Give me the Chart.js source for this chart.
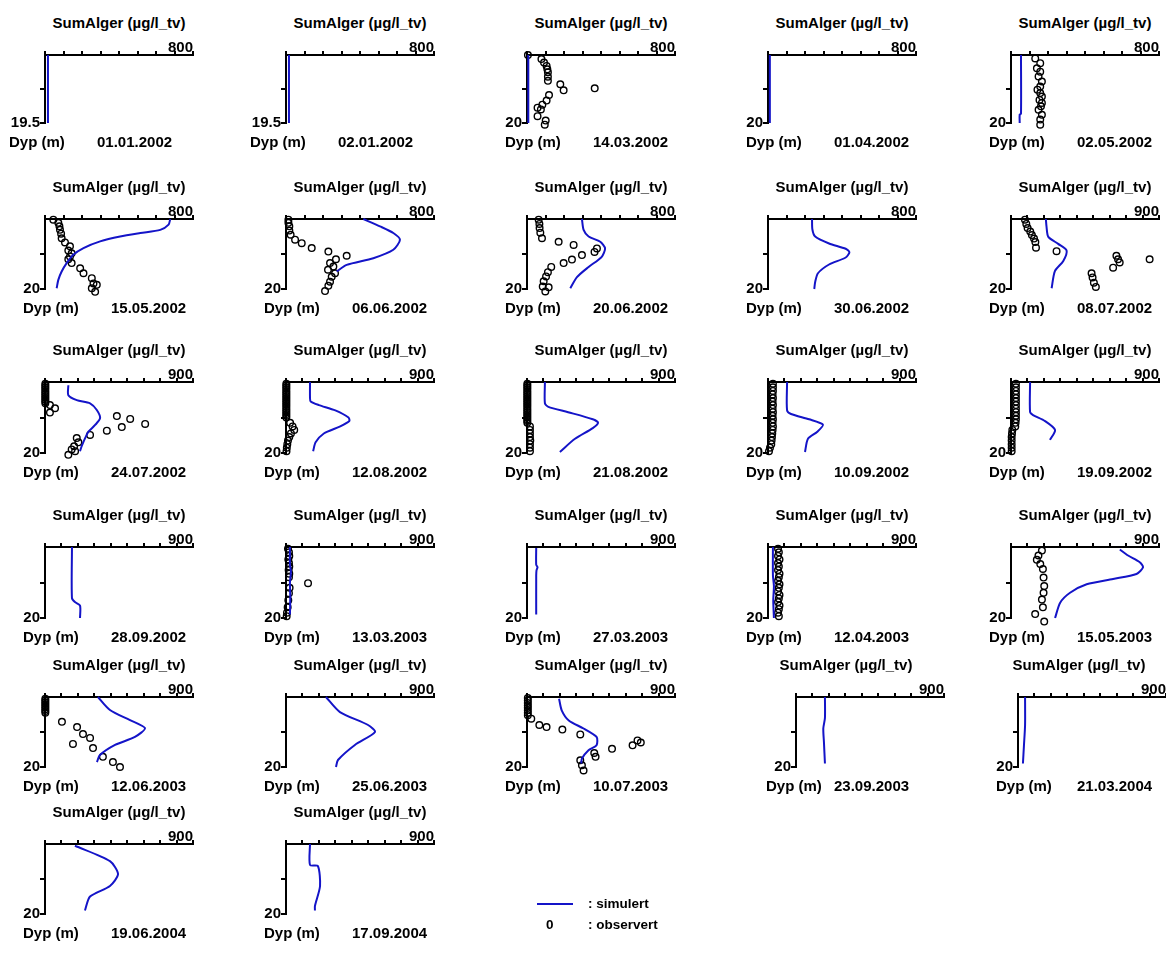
<!DOCTYPE html>
<html><head><meta charset="utf-8">
<script src="https://cdn.jsdelivr.net/npm/chart.js@4.4.1/dist/chart.umd.min.js"></script>
<style>
html,body{margin:0;padding:0;background:#fff;}
body{width:1166px;height:960px;position:relative;overflow:hidden;font-family:"Liberation Sans",Arial,sans-serif;}
canvas{position:absolute;}
.tx{position:absolute;font-weight:bold;font-size:15px;line-height:18px;color:#000;white-space:nowrap;}
.ti{text-align:center;width:200px;}
.lg{position:absolute;font-weight:bold;font-size:13.5px;line-height:16px;white-space:nowrap;color:#000;}
</style></head><body>
<script>
// ---------- data ----------
const dates = ["01.01.2002","02.01.2002","14.03.2002","01.04.2002","02.05.2002",
"15.05.2002","06.06.2002","20.06.2002","30.06.2002","08.07.2002",
"24.07.2002","12.08.2002","21.08.2002","10.09.2002","19.09.2002",
"28.09.2002","13.03.2003","27.03.2003","12.04.2003","15.05.2003",
"12.06.2003","25.06.2003","10.07.2003","23.09.2003","21.03.2004",
"19.06.2004","17.09.2004"];
const xMaxes = [800,800,800,800,800, 800,800,800,800,900, 900,900,900,900,900, 900,900,900,900,900, 900,900,900,900,900, 900,900];
const yMaxes = [19.5,19.5,20,20,20, 20,20,20,20,20, 20,20,20,20,20, 20,20,20,20,20, 20,20,20,20,20, 20,20];
const xTitle = "SumAlger (µg/l_tv)";
const yTitle = "Dyp (m)";

// simulated profiles: [value, depth]
const sim00 = [[16,0],[16,19.5]];
const sim01 = [[16,0],[16,19.5]];
const sim02 = [[7,0],[7,20]];
const sim03 = [[10,0],[10,20]];
const sim04 = [[54,0],[54,17.3],[47,17.5],[47,20]];
const sim05 = [[677,0],[668,1.6],[623,3.1],[515,4],[406,5],[298,6.4],[208,8.3],[153,10.2],[117,12.6],[90,15],[72,17.4],[63,19.8]];
const sim06 = [[418,0],[508,2.1],[580,4],[616,5.9],[580,8.8],[472,11.2],[328,13.1],[274,15]];
const sim07 = [[297,0],[306,3.1],[333,5],[396,6.5],[422,8.4],[404,10.8],[333,13.7],[270,16.6],[234,19.8]];
const sim08 = [[238,0],[240,3],[255,5],[330,7],[420,8.5],[440,9.5],[420,11],[330,13],[270,15.5],[255,18],[250,20]];
const sim09 = [[212,0],[216,2.2],[227,5.1],[287,7.1],[338,9],[318,12],[267,14.9],[247,19.8]];
const sim10 = [[142,0.9],[142,3.7],[193,5.1],[274,6],[315,7.9],[335,10.2],[305,12.1],[264,14],[244,15.8],[223,18.1],[213,19.5]];
const sim11 = [[146,0],[146,4.5],[150,5.5],[200,6.5],[300,8],[380,10],[385,11],[330,12.5],[230,14.5],[180,17],[165,19.5]];
const sim12 = [[109,0],[109,6],[130,7],[250,8.5],[400,10.5],[432,11.5],[400,13],[292,16],[200,19.7]];
const sim13 = [[116,0],[116,8],[140,9],[250,10.5],[334,12],[300,14],[243,16],[225,19.7]];
const sim14 = [[116,0],[116,8.5],[134,9.3],[207,11],[268,13.5],[237,16.3]];
const sim15 = [[164,0],[164,14.4],[182,15.5],[213,16.5],[213,20]];
const sim16 = [[24,0],[24,5],[30,7],[24,10],[26,14],[24,19]];
const sim17 = [[56,0.3],[56,5],[64,5.7],[58,6.5],[56,8],[56,19]];
const sim18 = [[30,0],[30,8],[36,11],[32,15],[36,20]];
const sim19 = [[662,0.7],[712,2.4],[783,4.3],[803,5.7],[763,7.6],[621,9],[460,10.5],[359,12.9],[299,15.7],[268,20]];
const sim20 = [[322,0],[395,3.7],[517,6.6],[608,8.9],[547,11.4],[426,13.7],[334,16.6],[316,18.6]];
const sim21 = [[243,0],[328,4.3],[499,8],[541,10],[419,13.7],[316,18],[304,20]];
const sim22 = [[195,0.5],[211,3.8],[254,6.7],[344,9],[423,11.4],[423,13.8],[374,15.2],[334,17.6],[330,19]];
const sim23 = [[176,0],[176,6],[166,9],[170,13],[176,19]];
const sim24 = [[43,0],[43,8],[36,14],[30,19]];
const sim25 = [[182,0.5],[395,4.9],[444,8.6],[395,12],[274,15],[243,19]];
const sim26 = [[146,0],[146,6],[194,6.3],[207,12],[176,17.7],[176,19]];

// observed profiles: [value, depth]
const obs00 = [], obs01 = [], obs03 = [], obs08 = [], obs15 = [], obs17 = [], obs21 = [], obs23 = [], obs24 = [], obs25 = [], obs26 = [];
const obs02 = [[5,0],[78,1.2],[92,2.2],[106,3.2],[110,4.2],[113,5.1],[113,6.4],[113,7.6],[180,8.6],[198,10.4],[366,9.8],[119,11.8],[106,13.4],[83,14.6],[57,15.5],[75,16],[57,18],[101,19.3],[96,20.5]];
const obs04 = [[131,1],[158,2.4],[140,3.9],[158,4.9],[149,6.3],[167,7.8],[158,9.3],[143,10.2],[158,11.2],[167,12.2],[154,13.2],[167,14.1],[162,15.1],[149,16.1],[167,17.6],[158,19],[158,20.5]];
const obs05 = [[45,0.2],[72,1.1],[78,2.1],[81,3.1],[87,4.2],[90,5.5],[108,6.7],[135,7.8],[126,9],[144,9.8],[135,10.7],[126,11.5],[144,12.6],[190,14.1],[208,15.5],[253,16.9],[262,18.4],[280,18.8],[253,19.8],[271,20.8]];
const obs06 = [[13,0.2],[13,1.1],[18,2.1],[18,3.3],[25,4.5],[49,5.9],[85,6.9],[139,8.3],[229,9.3],[328,10.5],[270,11.5],[238,12.6],[256,13.6],[227,14.5],[265,15.5],[247,16.5],[238,17.9],[229,19.1],[211,20.6]];
const obs07 = [[63,0.2],[67,1.4],[68,2.6],[72,3.9],[81,5.5],[171,6.5],[252,7.4],[378,8.4],[365,9.4],[297,10.3],[243,11.6],[198,12.6],[131,13.7],[113,15.2],[103,16.4],[90,17.8],[85,19.3],[117,19.5],[99,20.7]];
const obs09 = [[85,0.2],[93,1.4],[101,2.6],[117,3.6],[127,4.6],[140,5.6],[148,6.6],[152,8.2],[277,9.2],[641,10.5],[651,11.5],[661,12.4],[621,13.9],[843,11.5],[490,15.5],[496,16.7],[504,18.2],[516,19.4]];
const obs10 = [[2,0.5],[2,1],[2,1.5],[2,2],[2,2.5],[2,3],[2,3.5],[2,4],[2,4.5],[2,5],[2,5.5],[2,6],[30,6.5],[61,7.4],[30,8.6],[437,9.6],[518,10.4],[609,11.8],[467,12.7],[376,13.7],[274,14.9],[193,15.8],[203,17],[177,18.1],[162,19],[183,19.5],[142,20.5]];
const obs11 = [[2,0.5],[2,1],[2,1.5],[2,2],[2,2.5],[2,3],[2,3.5],[2,4],[2,4.5],[2,5],[2,5.5],[2,6],[2,6.5],[2,7],[2,7.5],[2,8],[2,8.5],[2,9],[2,9.5],[2,10],[25,11.5],[40,12.5],[50,13.5],[30,14.5],[20,15.5],[12,16.5],[8,17.5],[5,18.5],[3,19.5]];
const obs12 = [[2,0.5],[2,1],[2,1.5],[2,2],[2,2.5],[2,3],[2,3.5],[2,4],[2,4.5],[2,5],[2,5.5],[2,6],[2,6.5],[2,7],[2,7.5],[2,8],[2,8.5],[2,9],[2,9.5],[2,10],[2,10.5],[2,11],[2,11.5],[18,12.5],[18,13.5],[18,14.5],[18,15.5],[20,16.5],[18,17.5],[18,18.5],[18,19.5]];
const obs13 = [[30,0.5],[30,1.5],[30,2.5],[28,3.5],[30,4.5],[28,5.5],[30,6.5],[28,7.5],[30,8.5],[28,9.5],[30,10.5],[28,11.5],[30,12.5],[28,13.5],[26,14.5],[24,15.5],[22,16.5],[20,17.5],[12,18.5],[6,19.5]];
const obs14 = [[30,0.5],[30,1.5],[30,2.5],[30,3.5],[30,4.5],[30,5.5],[30,6.5],[30,7.5],[30,8.5],[30,9.5],[30,10.5],[28,11.5],[26,12.5],[8,13.5],[6,14.5],[4,15.5],[4,16.5],[4,17.5],[4,18.5],[4,19.5]];
const obs16 = [[12,0.5],[18,1.5],[20,2.5],[14,3.5],[18,4.5],[20,5.5],[16,6.5],[20,7.5],[18,8.5],[134,10.2],[22,11.5],[18,13],[14,15],[10,17],[6,18.5],[4,19.5]];
const obs18 = [[61,0.5],[66,1.5],[61,2.5],[70,3.5],[61,4.5],[66,5.5],[61,6.5],[70,7.5],[66,8.5],[61,9.5],[70,10.5],[66,11.5],[61,12.5],[70,13.5],[66,14.5],[61,15.5],[70,16.5],[66,17.5],[61,18.5],[66,19.5]];
const obs19 = [[188,1],[167,2.4],[157,3.6],[178,4.8],[194,6.2],[198,8.6],[202,11],[198,12.9],[188,14.8],[194,17],[147,18.9],[202,21]];
const obs20 = [[2,0.5],[2,1],[2,1.5],[2,2],[2,2.5],[2,3],[2,3.5],[2,4],[2,4.5],[103,7.1],[195,8.6],[231,10.6],[274,11.7],[170,13.4],[292,14.6],[352,17.1],[413,18.6],[456,20]];
const obs22 = [[5,0.3],[5,1],[5,1.7],[5,2.4],[5,3.1],[5,3.8],[5,4.5],[5,5.2],[26,6.2],[75,8],[119,8.6],[215,9.3],[324,10.7],[672,12.4],[692,13],[642,13.8],[517,14.8],[409,16],[417,17.1],[324,18.1],[334,19.5],[344,21]];

const simList = [sim00,sim01,sim02,sim03,sim04,sim05,sim06,sim07,sim08,sim09,sim10,sim11,sim12,sim13,sim14,sim15,sim16,sim17,sim18,sim19,sim20,sim21,sim22,sim23,sim24,sim25,sim26];
const obsList = [obs00,obs01,obs02,obs03,obs04,obs05,obs06,obs07,obs08,obs09,obs10,obs11,obs12,obs13,obs14,obs15,obs16,obs17,obs18,obs19,obs20,obs21,obs22,obs23,obs24,obs25,obs26];

// ---------- layout ----------
const colX = [45,286,527,768,1011];
const rowY = [55,219,382,547,697,844];
const rowH = [68,70,71,71,70,70];
const PW = 148;
const shiftX = {23:28, 24:7};      // plot shift
const dypShift = {23:20, 24:7};    // depth-label shift
const titleShift = {23:4, 24:-6};
const BLUE = '#1414c8';

Chart.defaults.font.family = '"Liberation Sans", Arial, sans-serif';
Chart.defaults.font.weight = 'bold';
Chart.defaults.font.size = 15;
Chart.defaults.color = '#000';

function addText(cls, txt, left, top){
  const d = document.createElement('div');
  d.className = cls; d.textContent = txt;
  d.style.left = left+'px'; d.style.top = top+'px';
  document.body.appendChild(d);
}

const LW = 45, TH = 22, RP = 12, BP = 14;
for (let i=0;i<dates.length;i++){
  const col = i%5, row = Math.floor(i/5);
  const cx = colX[col];
  const ax = cx + (shiftX[i]||0), ay = rowY[row], h = rowH[row];
  const xmax = xMaxes[i], ymax = yMaxes[i];
  const cv = document.createElement('canvas');
  const W = LW+PW+RP, H = TH+h+BP;
  cv.width = W; cv.height = H;
  cv.style.left = (ax-LW)+'px'; cv.style.top = (ay-TH)+'px';
  cv.style.width = W+'px'; cv.style.height = H+'px';
  document.body.appendChild(cv);
  const toXY = a => a.map(p => ({x:p[0], y:p[1]}));
  new Chart(cv, {
    type:'scatter',
    data:{datasets:[
      {data:toXY(simList[i]), showLine:true, borderColor:BLUE, borderWidth:2, pointRadius:0, fill:false, clip:false, tension:0.25},
      {data:toXY(obsList[i]), showLine:false, pointStyle:'circle', pointRadius:3.3, borderColor:'#000', borderWidth:1.4, backgroundColor:'rgba(0,0,0,0)', clip:false}
    ]},
    options:{
      responsive:false, animation:false, devicePixelRatio:1,
      layout:{padding:{left:0,top:0,right:RP,bottom:BP}},
      plugins:{legend:{display:false}, tooltip:{enabled:false}, title:{display:false}},
      scales:{
        x:{type:'linear', position:'top', min:0, max:xmax,
           afterFit:s=>{s.height=TH;},
           afterBuildTicks:s=>{const t=[]; for(let v=0;v<=xmax;v+=100) t.push({value:v}); s.ticks=t;},
           ticks:{autoSkip:false, maxRotation:0, minRotation:0, align:'end', padding:-6,
                  callback:v=> v===xmax ? String(v) : ''},
           grid:{display:true, drawOnChartArea:false, drawTicks:true, tickLength:4, color:'#000', lineWidth:2},
           border:{display:true, color:'#000', width:2}},
        y:{type:'linear', reverse:true, min:0, max:ymax,
           afterFit:s=>{s.width=LW;},
           afterBuildTicks:s=>{s.ticks=[{value:ymax/2},{value:ymax}];},
           ticks:{autoSkip:false, padding:0, callback:v=> v===ymax ? String(v) : ''},
           grid:{display:true, drawOnChartArea:false, drawTicks:true, tickLength:5, color:'#000', lineWidth:2},
           border:{display:true, color:'#000', width:2}}
      }
    }
  });
  addText('tx ti', xTitle, cx+74-100+(titleShift[i]||0), ay-32-9);
  const by = ay + h + 19 - 9;
  const small = (ymax !== 20) ? 14 : 0;
  addText('tx', yTitle, cx+(dypShift[i]||0)-22-small, by);
  addText('tx', dates[i], cx+66-small, by);
}

// legend
const lgLine = document.createElement('div');
lgLine.style.cssText = 'position:absolute;left:537px;top:903px;width:36px;height:2px;background:'+BLUE+';';
document.body.appendChild(lgLine);
addText('lg', ': simulert', 588, 896);
addText('lg', '0', 546, 917);
addText('lg', ': observert', 588, 917);
</script>
</body></html>
